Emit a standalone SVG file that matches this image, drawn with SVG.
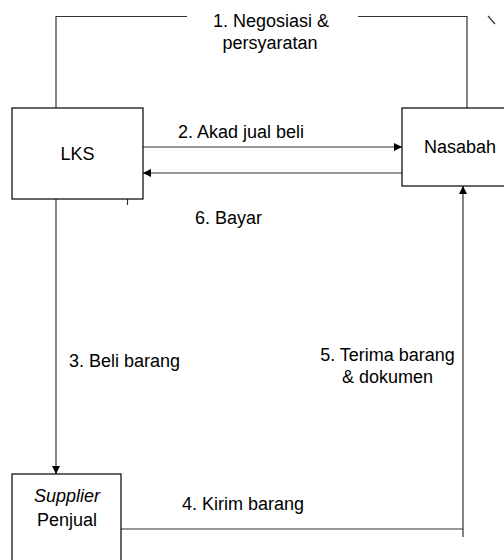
<svg xmlns="http://www.w3.org/2000/svg" width="504" height="560" viewBox="0 0 504 560">
<style>
.box{fill:#fff;stroke:#000;stroke-width:1.2}
.ln{fill:none;stroke:#333;stroke-width:1.2}
text{font-family:"Liberation Sans",Arial,sans-serif;font-size:18px;fill:#000}
</style>
<defs>
<marker id="ah" viewBox="0 0 10 10" refX="10" refY="5" markerWidth="10" markerHeight="8" markerUnits="userSpaceOnUse" orient="auto">
<path d="M0,0 L10,5 L0,10 z" fill="#000"/>
</marker>
</defs>
<rect width="504" height="560" fill="#fff"/>
<g id="connectors">
<path class="ln" d="M56,108 V16.5 H187 M358,16.5 H467 V108"/>
<path class="ln" d="M488,16 L495,24"/>
<path class="ln" d="M143,147 H402" marker-end="url(#ah)"/>
<path class="ln" d="M402,173 H143" marker-end="url(#ah)"/>
<path class="ln" d="M56,199 V474" marker-end="url(#ah)"/>
<path class="ln" d="M117,529 H463"/>
<path class="ln" d="M463,537 V186" marker-end="url(#ah)"/>
<path class="ln" d="M127.5,199 V205"/>
<text x="213" y="27">1. Negosiasi &amp;</text>
<text x="270" y="49" text-anchor="middle">persyaratan</text>
<text x="178" y="138">2. Akad jual beli</text>
<text x="195" y="224">6. Bayar</text>
<text x="69" y="367">3. Beli barang</text>
<text x="387.5" y="361" text-anchor="middle">5. Terima barang</text>
<text x="387.5" y="383" text-anchor="middle">&amp; dokumen</text>
<text x="182" y="510">4. Kirim barang</text>
</g>
<g id="lks">
<rect class="box" x="12" y="108" width="131" height="91"/>
<text x="77.5" y="160" text-anchor="middle">LKS</text>
</g>
<g id="nasabah">
<rect class="box" x="402" y="108" width="120" height="78"/>
<text x="460" y="153" text-anchor="middle">Nasabah</text>
</g>
<g id="supplier">
<rect class="box" x="12" y="474" width="109" height="100"/>
<text x="67" y="502" text-anchor="middle" font-style="italic">Supplier</text>
<text x="67" y="526" text-anchor="middle">Penjual</text>
</g>
</svg>
